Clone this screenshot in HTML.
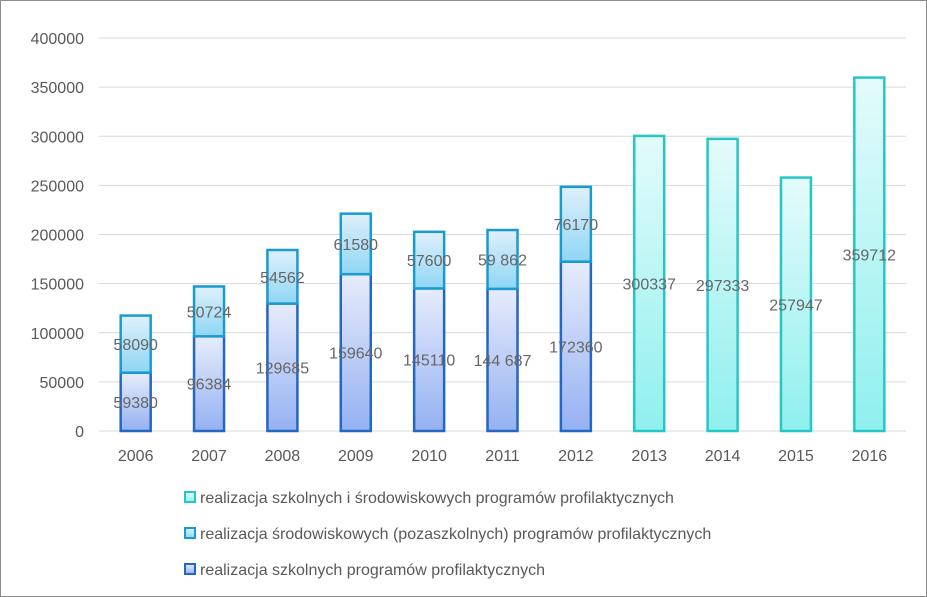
<!DOCTYPE html>
<html><head><meta charset="utf-8"><style>
body{margin:0;background:#fff}
svg{display:block;font-family:"Liberation Sans",sans-serif}
</style></head><body>
<svg id="chart" width="927" height="597">
<defs>
<linearGradient id="gBot" x1="0" y1="0" x2="0" y2="1"><stop offset="0" stop-color="#e6ecfb"/><stop offset="1" stop-color="#95b1f2"/></linearGradient>
<linearGradient id="gTop" x1="0" y1="0" x2="0" y2="1"><stop offset="0" stop-color="#dff0fb"/><stop offset="1" stop-color="#8fd6f4"/></linearGradient>
<linearGradient id="gAll" x1="0" y1="0" x2="0" y2="1"><stop offset="0" stop-color="#e4fbfb"/><stop offset="1" stop-color="#8ff0ee"/></linearGradient>
</defs>
<rect x="0.5" y="0.5" width="926" height="596" fill="#fff" stroke="#8c8c8c"/>
<g id="grid"></g><g id="bars"></g><g id="labels"></g>
<g font-size="16" fill="#595959">
<g><rect x="185" y="492" width="10" height="10" fill="url(#gAll)" stroke="#27c6c6" stroke-width="2"/><text x="200" y="503">realizacja szkolnych i środowiskowych programów profilaktycznych</text></g>
<g><rect x="185" y="528" width="10" height="10" fill="url(#gTop)" stroke="#1a9bd0" stroke-width="2"/><text x="200" y="539">realizacja środowiskowych (pozaszkolnych) programów profilaktycznych</text></g>
<g><rect x="185" y="564" width="10" height="10" fill="url(#gBot)" stroke="#2467c2" stroke-width="2"/><text x="200" y="575">realizacja szkolnych programów profilaktycznych</text></g>
</g>
</svg>
<script>
const years=["2006","2007","2008","2009","2010","2011","2012","2013","2014","2015","2016"];
const school=[59380,96384,129685,159640,145110,144687,172360,null,null,null,null];
const community=[58090,50724,54562,61580,57600,59862,76170,null,null,null,null];
const combined=[null,null,null,null,null,null,null,300337,297333,257947,359712];
const schoolLabels=["59380","96384","129685","159640","145110","144 687","172360"];
const communityLabels=["58090","50724","54562","61580","57600","59 862","76170"];
const yTicks=[0,50000,100000,150000,200000,250000,300000,350000,400000];
const NS="http://www.w3.org/2000/svg";
const L=99,R=906,T=38,B=431,ymax=400000;
const y=v=>B-v/ymax*(B-T);
const step=(R-L)/years.length;
const xc=i=>L+step*(i+0.5);
const bw=30;
function mk(tag,attrs,parent){const e=document.createElementNS(NS,tag);for(const k in attrs)e.setAttribute(k,attrs[k]);parent.appendChild(e);return e;}
const grid=document.getElementById('grid'),bars=document.getElementById('bars'),labels=document.getElementById('labels');
yTicks.forEach(t=>{
 const l=mk('line',{x1:L,x2:R,y1:y(t),y2:y(t),stroke:'#d9d9d9','stroke-width':1},grid);
 
 
 const tx=mk('text',{x:84,y:y(t)+6,'text-anchor':'end','font-size':16,fill:'#595959'},grid);
 tx.textContent=t;
 
 
});
years.forEach((yr,i)=>{
 const t=mk('text',{x:xc(i),y:461,'text-anchor':'middle','font-size':16,fill:'#595959'},grid);
 t.textContent=yr;
 
 
 const x0=xc(i)-bw/2;
 if(school[i]!=null){
  const b=mk('rect',{x:x0,y:y(school[i]),width:bw,height:B-y(school[i]),fill:'url(#gBot)',stroke:'#2467c2','stroke-width':2.5},bars);
  
  
  const top=school[i]+community[i];
  const c=mk('rect',{x:x0,y:y(top),width:bw,height:y(school[i])-y(top),fill:'url(#gTop)',stroke:'#1a9bd0','stroke-width':2.5},bars);
  
  
  const l1=mk('text',{x:xc(i),y:(B+y(school[i]))/2+6,'text-anchor':'middle','font-size':16,fill:'#666'},labels);
  l1.textContent=schoolLabels[i];
  
  
  const l2=mk('text',{x:xc(i),y:(y(school[i])+y(top))/2+6,'text-anchor':'middle','font-size':16,fill:'#666'},labels);
  l2.textContent=communityLabels[i];
  
  
 }
 if(combined[i]!=null){
  const b=mk('rect',{x:x0,y:y(combined[i]),width:bw,height:B-y(combined[i]),fill:'url(#gAll)',stroke:'#27c6c6','stroke-width':2.5},bars);
  
  
  const l=mk('text',{x:xc(i),y:(B+y(combined[i]))/2+6,'text-anchor':'middle','font-size':16,fill:'#666'},labels);
  l.textContent=combined[i];
  
  
 }
});
</script>
</body></html>
